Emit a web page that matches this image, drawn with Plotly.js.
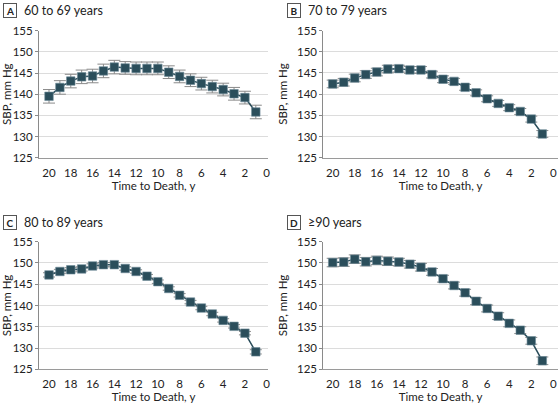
<!DOCTYPE html>
<html>
<head>
<meta charset="utf-8">
<script src="https://cdn.plot.ly/plotly-3.0.1.min.js"></script>
<style>html,body{margin:0;padding:0;background:#fff;}#chart{width:559px;height:403px;}</style>
</head>
<body>
<div id="chart"></div>
<script>
var years = [20,19,18,17,16,15,14,13,12,11,10,9,8,7,6,5,4,3,2,1];
var xTicks = [20,18,16,14,12,10,8,6,4,2,0];
var yTicks = [125,130,135,140,145,150,155];

var panelLetters = ["A","B","C","D"];
var panelTitles = ["60 to 69 years","70 to 79 years","80 to 89 years","\u226590 years"];

var sbpA = [139.5,141.6,143.1,144.1,144.3,145.5,146.4,146.2,146.1,146.1,146.1,145.2,144.2,143.3,142.5,141.8,141.1,140.1,139.2,135.8];
var errA = [1.6,1.6,1.6,1.6,1.6,1.6,1.6,1.5,1.5,1.5,1.5,1.5,1.5,1.5,1.5,1.5,1.5,1.5,1.5,1.6];

var sbpB = [142.4,142.8,143.8,144.6,145.2,145.9,146.0,145.7,145.7,144.6,143.5,143.0,141.6,140.3,138.9,137.8,136.8,135.9,134.1,130.6];
var errB = [0.9,0.9,0.9,0.9,0.9,0.9,0.8,0.8,0.8,0.8,0.8,0.7,0.7,0.7,0.7,0.7,0.7,0.7,0.7,0.8];

var sbpC = [147.2,148.0,148.4,148.6,149.3,149.6,149.6,148.7,148.0,146.9,145.6,144.0,142.4,140.8,139.4,138.0,136.5,135.1,133.5,129.1];
var errC = [0.5,0.5,0.5,0.5,0.5,0.5,0.5,0.4,0.4,0.4,0.4,0.4,0.4,0.4,0.4,0.4,0.4,0.4,0.4,0.5];

var sbpD = [150.1,150.2,150.9,150.3,150.6,150.4,150.2,149.7,149.0,147.9,146.3,144.7,143.0,141.0,139.3,137.5,135.8,134.2,131.7,127.0];
var errD = [1.0,1.0,1.0,1.0,1.0,1.0,0.9,0.9,0.9,0.8,0.8,0.8,0.8,0.8,0.8,0.8,0.8,0.8,0.8,0.9];

var allSbp = [sbpA, sbpB, sbpC, sbpD];
var allErr = [errA, errB, errC, errD];

var W = 559, H = 403;
var FONT = "Lato, 'Open Sans', sans-serif";
var markColor = "#2b4e5b";

// pixel geometry of each panel
var geo = [
  {l:39, r:268, t:30.7, b:157.7, xr:[20.92,-0.12]},
  {l:323.3, r:558, t:30.5, b:157.7, xr:[20.85,-0.42]},
  {l:39, r:268, t:241.7, b:369.3, xr:[20.92,-0.12]},
  {l:323.3, r:558, t:241.7, b:369.3, xr:[20.85,-0.42]}
];

var data = [];
var layout = {
  width: W, height: H,
  margin: {l:0, r:0, t:0, b:0},
  paper_bgcolor: "#fff", plot_bgcolor: "#fff",
  showlegend: false,
  font: {family: FONT, size: 11, color: "#222"},
  annotations: []
};

for (var i = 0; i < 4; i++) {
  var g = geo[i];
  var sx = i === 0 ? "" : String(i+1);
  data.push({
    type: "scatter", mode: "lines+markers",
    x: years, y: allSbp[i],
    xaxis: "x" + sx, yaxis: "y" + sx,
    line: {color: markColor, width: 1.5},
    marker: {symbol: "square", size: 8.5, color: markColor, line: {color: "#6f8c98", width: 0.6}},
    error_y: {type: "data", array: allErr[i], visible: true, color: "#8a8a8a", thickness: 1, width: 6},
    hoverinfo: "none"
  });
  layout["xaxis" + sx] = {
    domain: [g.l / W, g.r / W],
    range: g.xr, autorange: false,
    anchor: "y" + sx,
    tickmode: "array", tickvals: xTicks,
    showgrid: false, zeroline: false,
    showline: true, linecolor: "#9a9a9a", linewidth: 1,
    ticks: "outside", ticklen: 4, tickcolor: "rgba(0,0,0,0)",
    tickfont: {family: FONT, size: 11.5, color: "#222"},
    title: {text: "Time to Death, y", font: {family: FONT, size: 11.5, color: "#222"}, standoff: 4},
    fixedrange: true
  };
  layout["yaxis" + sx] = {
    domain: [1 - g.b / H, 1 - g.t / H],
    range: [125, 155], autorange: false,
    anchor: "x" + sx,
    tickmode: "array", tickvals: yTicks,
    showgrid: true, gridcolor: "#dcdcdc", gridwidth: 1,
    zeroline: false,
    showline: true, linecolor: "#8a8a8a", linewidth: 1,
    ticks: "outside", ticklen: 3, tickcolor: "#8a8a8a",
    tickfont: {family: FONT, size: 11.5, color: "#222"},
    title: {text: "SBP, mm Hg", font: {family: FONT, size: 11.5, color: "#222"}, standoff: 6},
    fixedrange: true
  };
  var baseX = (i % 2 === 0) ? 3 : 287;
  var baseY = (i < 2) ? 10.5 : 222;
  layout.annotations.push({
    xref: "paper", yref: "paper",
    x: baseX / W, y: 1 - baseY / H,
    xanchor: "left", yanchor: "middle",
    text: "<b>" + panelLetters[i] + "</b>",
    showarrow: false,
    font: {family: FONT, size: 10, color: "#222"},
    bordercolor: "#555", borderwidth: 1, borderpad: 1.5,
    width: 9, height: 10, align: "center"
  });
  layout.annotations.push({
    xref: "paper", yref: "paper",
    x: (baseX + 18.5) / W, y: 1 - baseY / H,
    xanchor: "left", yanchor: "middle",
    text: panelTitles[i],
    showarrow: false,
    font: {family: FONT, size: 12.5, color: "#222"}
  });
}

Plotly.newPlot("chart", data, layout, {displayModeBar: false, staticPlot: true});
</script>
</body>
</html>
